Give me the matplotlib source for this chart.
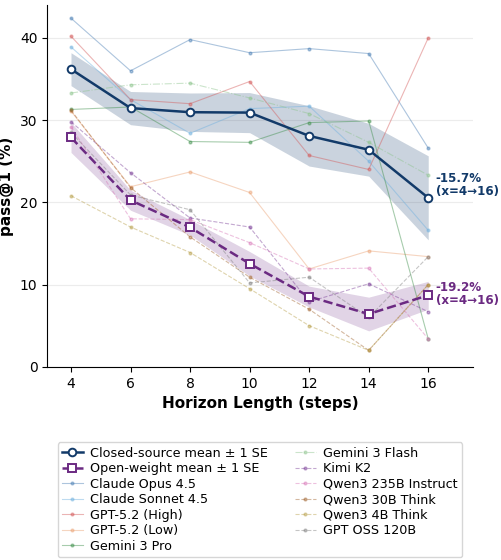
import matplotlib
matplotlib.use("Agg")
import matplotlib.pyplot as plt
import numpy as np

horizons = [4, 6, 8, 10, 12, 14, 16]

# closed-source models
closed_names = ["Claude Opus 4.5", "Claude Sonnet 4.5", "GPT-5.2 (High)",
                "GPT-5.2 (Low)", "Gemini 3 Pro", "Gemini 3 Flash"]
claude_opus = [42.4, 36.0, 39.8, 38.2, 38.7, 38.1, 26.6]
claude_sonnet = [38.9, 32.5, 28.4, 31.4, 31.7, 25.0, 16.6]
gpt_high = [40.2, 32.5, 32.0, 34.7, 25.7, 24.0, 40.0]
gpt_low = [31.1, 21.9, 23.7, 21.2, 11.9, 14.1, 13.4]
gemini_pro = [31.3, 31.6, 27.4, 27.3, 29.7, 29.9, 3.4]
gemini_flash = [33.3, 34.3, 34.5, 32.7, 30.8, 27.3, 23.3]
closed_colors = ["#4a7fb5", "#6fb0de", "#d45a5a", "#eba274", "#3d8f4a", "#8cc48c"]

# open-weight models
open_names = ["Kimi K2", "Qwen3 235B Instruct", "Qwen3 30B Think",
              "Qwen3 4B Think", "GPT OSS 120B"]
kimi = [29.8, 23.6, 18.1, 17.0, 7.9, 10.1, 6.7]
qwen235 = [29.2, 18.0, 17.9, 15.1, 11.9, 12.0, 3.4]
qwen30 = [31.2, 21.8, 15.8, 10.9, 7.0, 2.0, 10.0]
qwen4 = [20.8, 17.0, 13.9, 9.5, 5.0, 2.0, 10.0]
gpt_oss = [28.5, 20.9, 19.1, 10.2, 10.9, 6.0, 13.4]
open_colors = ["#7b3f98", "#d877b8", "#a0622d", "#b8a04a", "#808080"]

closed = np.array([claude_opus, claude_sonnet, gpt_high, gpt_low, gemini_pro, gemini_flash])
opn = np.array([kimi, qwen235, qwen30, qwen4, gpt_oss])

closed_col = "#123a69"
open_col = "#6b2a82"

fig = plt.figure(figsize=(5.02, 5.6), dpi=100)
ax = fig.add_axes([0.094, 0.345, 0.848, 0.646])

x = np.array(horizons)
handles = []

for vals, name, c in zip(closed, closed_names, closed_colors):
    ls = "-." if name == "Gemini 3 Flash" else "-"
    h, = ax.plot(x, vals, ls, color=c, lw=0.8, marker=".", ms=4, alpha=0.45, label=name)
    handles.append(h)
for vals, name, c in zip(opn, open_names, open_colors):
    h, = ax.plot(x, vals, "--", color=c, lw=0.8, marker=".", ms=4, alpha=0.45, label=name)
    handles.append(h)

# means +- SE
cm = closed.mean(axis=0)
cse = closed.std(axis=0, ddof=1) / np.sqrt(closed.shape[0])
om = opn.mean(axis=0)
ose = opn.std(axis=0, ddof=1) / np.sqrt(opn.shape[0])

ax.fill_between(x, cm - cse, cm + cse, color=closed_col, alpha=0.22, lw=0)
ax.fill_between(x, om - ose, om + ose, color=open_col, alpha=0.2, lw=0)
hc, = ax.plot(x, cm, "-", color=closed_col, lw=1.8, marker="o", ms=5.5,
              mfc="white", mew=1.4, label="Closed-source mean \u00b1 1 SE", zorder=5)
ho, = ax.plot(x, om, "--", color=open_col, lw=1.8, marker="s", ms=5.5,
              mfc="white", mew=1.4, label="Open-weight mean \u00b1 1 SE", zorder=5)

ax.text(16.25, 22.1, "-15.7%\n(x=4\u219216)", color=closed_col, fontsize=8.6,
        fontweight="bold", va="center", ha="left", linespacing=1.0)
ax.text(16.25, 8.9, "-19.2%\n(x=4\u219216)", color=open_col, fontsize=8.6,
        fontweight="bold", va="center", ha="left", linespacing=1.0)

ax.set_xlim(3.2, 17.5)
ax.set_ylim(0, 44)
ax.set_xticks(horizons)
ax.set_yticks([0, 10, 20, 30, 40])
ax.tick_params(labelsize=10)
ax.grid(axis="y", color="#ececec", lw=0.8)
ax.set_axisbelow(True)
ax.spines["top"].set_visible(False)
ax.spines["right"].set_visible(False)
ax.set_xlabel("Horizon Length (steps)", fontsize=11, fontweight="bold")
ax.set_ylabel("pass@1 (%)", fontsize=11, fontweight="bold")

fig.legend(handles=[hc, ho] + handles, loc="upper center", ncol=2,
           bbox_to_anchor=(0.518, 0.222), fontsize=9.2, frameon=True,
           handlelength=1.6, labelspacing=0.2, columnspacing=2.1,
           handletextpad=0.6, edgecolor="#cccccc", borderpad=0.35)

fig.savefig("out.png", dpi=100)
